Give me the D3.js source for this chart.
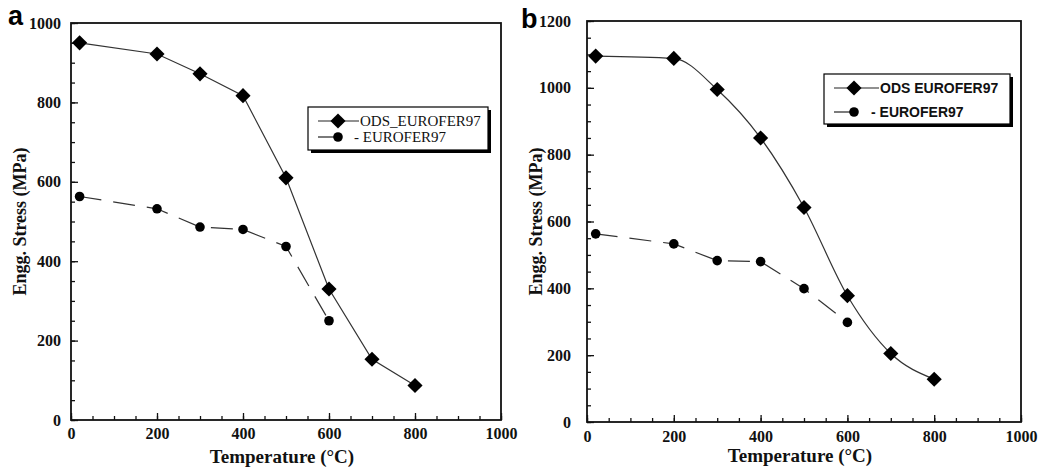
<!DOCTYPE html>
<html>
<head>
<meta charset="utf-8">
<script src="https://cdn.jsdelivr.net/npm/d3@7"></script>
<style>
  body { margin: 0; background: #fff; }
  svg { display: block; }
</style>
</head>
<body>
<svg id="chart" width="1038" height="473"></svg>
<script>
// temperatures (°C)
const tempOds = [20, 200, 300, 400, 500, 600, 700, 800];
const tempEuro = [20, 200, 300, 400, 500, 600];

// panel a: engg. stress (MPa)
const odsA = [950, 922, 872, 817, 610, 330, 153, 87];
const euroA = [563, 532, 486, 480, 437, 250];

// panel b
const odsB = [1095, 1088, 995, 850, 642, 378, 205, 128];
const euroB = [563, 533, 483, 480, 399, 298];

const xTicks = [0, 200, 400, 600, 800, 1000];
const yTicksA = [0, 200, 400, 600, 800, 1000];
const yTicksB = [0, 200, 400, 600, 800, 1000, 1200];

const legendA = ['ODS_EUROFER97', '- EUROFER97'];
const legendB = ['ODS EUROFER97', '- EUROFER97'];

const svg = d3.select('#chart');
const serif = '"Liberation Serif", "Times New Roman", serif';
const sans = '"Liberation Sans", Arial, Helvetica, sans-serif';

const zip = (xs, ys) => xs.map((x, i) => ({ x, y: ys[i] }));

const styleTicks = s => {
  s.attr('font-family', null).attr('font-size', null);
  s.select('.domain').remove();
  s.selectAll('.tick line').attr('stroke', '#111').attr('stroke-width', 1.3);
  s.selectAll('.tick text')
    .style('font-family', serif).style('font-weight', 'bold').style('font-size', '16px')
    .attr('fill', '#111');
};

function panel(opts) {
  const { left, right, top, bottom, yMax, yTicks, ods, euro, odsCurve, legend, legendFont, legendBox, tag, tagX, tagY, yLabelGap, yTitleX, xLabelPad, xTitleY } = opts;
  const g = svg.append('g');
  const x = d3.scaleLinear().domain([0, 1000]).range([left, right]);
  const y = d3.scaleLinear().domain([0, yMax]).range([bottom, top]);

  // minor ticks
  g.append('g')
    .attr('transform', `translate(0,${bottom})`)
    .call(d3.axisBottom(x).tickValues(d3.range(0, 1001, 50)).tickSize(-4).tickFormat(''))
    .call(styleTicks);
  g.append('g')
    .attr('transform', `translate(${left},0)`)
    .call(d3.axisLeft(y).tickValues(d3.range(0, yMax + 1, 50)).tickSize(-4).tickFormat(''))
    .call(styleTicks);

  // major ticks + labels
  g.append('g')
    .attr('transform', `translate(0,${bottom})`)
    .call(d3.axisBottom(x).tickValues(xTicks).tickSize(-7).tickFormat(d3.format('d')))
    .call(styleTicks)
    .call(s => s.selectAll('.tick text').attr('y', xLabelPad).attr('dy', '0.71em'));
  g.append('g')
    .attr('transform', `translate(${left},0)`)
    .call(d3.axisLeft(y).tickValues(yTicks).tickSize(-7).tickFormat(d3.format('d')))
    .call(styleTicks)
    .call(s => s.selectAll('.tick text').attr('x', -yLabelGap));

  // frame
  g.append('rect')
    .attr('x', left).attr('y', top)
    .attr('width', right - left).attr('height', bottom - top)
    .attr('fill', 'none').attr('stroke', '#111').attr('stroke-width', 1.8);

  const straight = d3.line().x(d => x(d.x)).y(d => y(d.y));
  const smooth = d3.line().x(d => x(d.x)).y(d => y(d.y)).curve(odsCurve);

  g.append('path')
    .datum(zip(tempEuro, euro))
    .attr('d', straight)
    .attr('fill', 'none').attr('stroke', '#333').attr('stroke-width', 1.2)
    .attr('stroke-dasharray', '22,12');
  g.append('path')
    .datum(zip(tempOds, ods))
    .attr('d', smooth)
    .attr('fill', 'none').attr('stroke', '#333').attr('stroke-width', 1.2);

  const diamond = d3.symbol().type(d3.symbolSquare).size(115);
  g.selectAll('.dia')
    .data(zip(tempOds, ods))
    .join('path')
    .attr('d', diamond)
    .attr('transform', d => `translate(${x(d.x)},${y(d.y)}) rotate(45)`)
    .attr('fill', '#000');
  g.selectAll('.dot')
    .data(zip(tempEuro, euro))
    .join('circle')
    .attr('cx', d => x(d.x)).attr('cy', d => y(d.y))
    .attr('r', 4.8).attr('fill', '#000');

  // legend
  const lb = legendBox;
  g.append('rect').attr('x', lb.x + 3).attr('y', lb.y + 3).attr('width', lb.w).attr('height', lb.h).attr('fill', '#000');
  g.append('rect').attr('x', lb.x).attr('y', lb.y).attr('width', lb.w).attr('height', lb.h)
    .attr('fill', '#fff').attr('stroke', '#000').attr('stroke-width', 1.2);
  lb.rows.forEach((ry, i) => {
    const lineEnd = i === 0 ? lb.lineX1 : lb.markX;
    g.append('line').attr('x1', lb.lineX0).attr('x2', lineEnd).attr('y1', ry).attr('y2', ry)
      .attr('stroke', '#222').attr('stroke-width', 1.2);
    if (i === 0) {
      g.append('path').attr('d', diamond).attr('transform', `translate(${lb.markX},${ry}) rotate(45)`).attr('fill', '#000');
    } else {
      g.append('circle').attr('cx', lb.markX).attr('cy', ry).attr('r', 4.8).attr('fill', '#000');
    }
    g.append('text')
      .attr('x', lb.textX[i]).attr('y', ry).attr('dy', '0.35em')
      .style('font-family', legendFont.family).style('font-weight', legendFont.weight)
      .style('font-size', legendFont.size + 'px').attr('fill', '#111')
      .text(legend[i]);
  });

  // axis titles
  g.append('text')
    .attr('x', (left + right) / 2 - 4).attr('y', xTitleY)
    .attr('text-anchor', 'middle')
    .style('font-family', serif).style('font-weight', 'bold').style('font-size', '19px')
    .attr('fill', '#111')
    .text('Temperature (°C)');
  g.append('text')
    .attr('transform', `translate(${yTitleX},${(top + bottom) / 2}) rotate(-90)`)
    .attr('text-anchor', 'middle').attr('dy', '0.35em')
    .style('font-family', serif).style('font-weight', 'bold').style('font-size', '18px')
    .attr('fill', '#111')
    .text('Engg. Stress (MPa)');

  // panel tag
  g.append('text')
    .attr('x', tagX).attr('y', tagY)
    .style('font-family', sans).style('font-weight', 'bold').style('font-size', '27px')
    .attr('fill', '#000')
    .text(tag);
}

panel({
  left: 71, right: 501, top: 23, bottom: 420,
  yMax: 1000, yTicks: yTicksA, ods: odsA, euro: euroA, odsCurve: d3.curveLinear,
  legend: legendA,
  legendFont: { family: serif, weight: 'normal', size: 15 },
  legendBox: { x: 308, y: 107, w: 180, h: 43, rows: [121, 137], lineX0: 318, lineX1: 359, markX: 338, textX: [360, 354] },
  tag: 'a', tagX: 8, tagY: 25, yLabelGap: 10, yTitleX: 20, xLabelPad: 8, xTitleY: 463
});

panel({
  left: 587, right: 1021, top: 21, bottom: 422,
  yMax: 1200, yTicks: yTicksB, ods: odsB, euro: euroB, odsCurve: d3.curveMonotoneX,
  legend: legendB,
  legendFont: { family: sans, weight: 'bold', size: 14 },
  legendBox: { x: 824, y: 74, w: 186, h: 50, rows: [88, 112], lineX0: 834, lineX1: 879, markX: 854, textX: [880, 871] },
  tag: 'b', tagX: 521, tagY: 28, yLabelGap: 16, yTitleX: 536, xLabelPad: 9, xTitleY: 462
});
</script>
</body>
</html>
